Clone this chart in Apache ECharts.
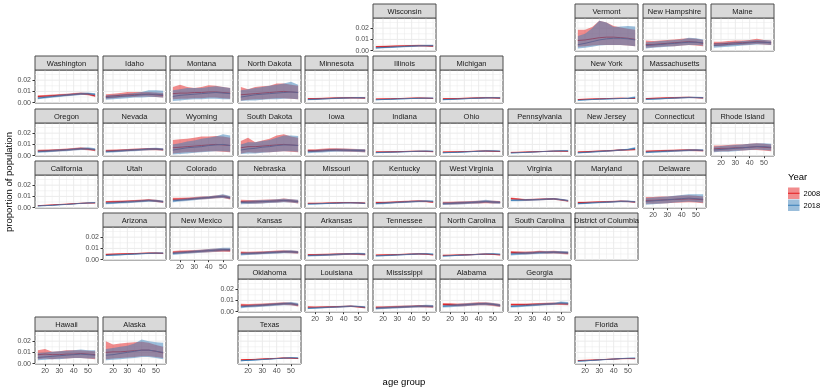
<!DOCTYPE html>
<html>
<head>
<meta charset="utf-8">
<script src="https://cdn.jsdelivr.net/npm/echarts@6/dist/echarts.min.js"></script>
<style>
  html, body { margin: 0; padding: 0; background: #fff; }
  #chart { width: 830px; height: 391px; }
</style>
</head>
<body>
<div id="chart"></div>
<script>
// age groups on the x axis
const ages = [15, 20, 25, 30, 35, 40, 45, 50, 55]
const years = ['2008', '2018']
const xTicks = [20, 30, 40, 50]
const yTicks = [0, 0.01, 0.02]

// geofacet cells: [state, row, col]
const cells = [
  ['Wisconsin', 0, 5], ['Vermont', 0, 8], ['New Hampshire', 0, 9], ['Maine', 0, 10],
  ['Washington', 1, 0], ['Idaho', 1, 1], ['Montana', 1, 2], ['North Dakota', 1, 3], ['Minnesota', 1, 4],
  ['Illinois', 1, 5], ['Michigan', 1, 6], ['New York', 1, 8], ['Massachusetts', 1, 9],
  ['Oregon', 2, 0], ['Nevada', 2, 1], ['Wyoming', 2, 2], ['South Dakota', 2, 3], ['Iowa', 2, 4],
  ['Indiana', 2, 5], ['Ohio', 2, 6], ['Pennsylvania', 2, 7], ['New Jersey', 2, 8], ['Connecticut', 2, 9], ['Rhode Island', 2, 10],
  ['California', 3, 0], ['Utah', 3, 1], ['Colorado', 3, 2], ['Nebraska', 3, 3], ['Missouri', 3, 4],
  ['Kentucky', 3, 5], ['West Virginia', 3, 6], ['Virginia', 3, 7], ['Maryland', 3, 8], ['Delaware', 3, 9],
  ['Arizona', 4, 1], ['New Mexico', 4, 2], ['Kansas', 4, 3], ['Arkansas', 4, 4], ['Tennessee', 4, 5],
  ['North Carolina', 4, 6], ['South Carolina', 4, 7], ['District of Columbia', 4, 8],
  ['Oklahoma', 5, 3], ['Louisiana', 5, 4], ['Mississippi', 5, 5], ['Alabama', 5, 6], ['Georgia', 5, 7],
  ['Hawaii', 6, 0], ['Alaska', 6, 1], ['Texas', 6, 3], ['Florida', 6, 8],
]

// values in thousandths of the population (0.001)
const mean08 = {
  'Wisconsin': [3.5,3.6,3.8,4,4.2,4.4,4.5,4.3,4],
  'Vermont': [9,9.5,10.5,11.5,12,12,11.5,11,10],
  'New Hampshire': [5.5,5.5,6,6.5,7,7.5,8,7.5,6.5],
  'Maine': [6,6,6.5,7,7,7.5,8,7.5,7],
  'Washington': [5.5,5.8,6.2,6.6,7,7.5,8,7.5,6],
  'Idaho': [5.5,6,6.5,7,7,7.5,7.5,7,6.5],
  'Montana': [8,8.5,8.5,9,9,9.5,9.5,9,8.5],
  'North Dakota': [7,7.5,8,8.5,9,9.5,10,9.5,9],
  'Minnesota': [3.5,3.5,3.7,3.9,4.1,4.3,4.4,4.3,4.1],
  'Illinois': [3.2,3.3,3.4,3.6,3.8,4,4.1,4,3.8],
  'Michigan': [3.4,3.5,3.6,3.8,4,4.2,4.4,4.3,4],
  'New York': [2.8,3,3.2,3.4,3.6,3.8,3.9,3.8,3.7],
  'Massachusetts': [3.6,3.8,4,4.2,4.4,4.6,4.7,4.5,4.2],
  'Oregon': [4.2,4.4,4.7,5,5.4,5.8,6.4,5.8,5],
  'Nevada': [4.2,4.4,4.7,5,5.3,5.6,5.9,5.8,5.3],
  'Wyoming': [7,7.5,8,8.5,9,9.5,10,9.5,9],
  'South Dakota': [7,8,8,8.5,9,9.5,10,9.5,9],
  'Iowa': [4.5,4.5,4.8,5.2,5.3,5,4.8,4.6,4.3],
  'Indiana': [3.3,3.3,3.4,3.5,3.7,3.8,3.9,3.8,3.6],
  'Ohio': [3.2,3.3,3.4,3.6,3.8,4,4.1,3.9,3.7],
  'Pennsylvania': [2.9,3,3.2,3.4,3.6,3.8,4,4,3.9],
  'New Jersey': [3.2,3.4,3.7,4,4.3,4.6,5,5.2,5.4],
  'Connecticut': [3.8,4,4.2,4.4,4.6,4.8,5,4.8,4.5],
  'Rhode Island': [6,6.5,6.5,7,7,7.5,8,7.5,7],
  'California': [1.8,2.1,2.4,2.8,3.1,3.5,3.9,4.1,4.2],
  'Utah': [5,5.2,5.4,5.6,5.9,6.2,6.6,6,5.2],
  'Colorado': [7.5,7.6,7.8,8.2,8.6,9,9.6,10,8.5],
  'Nebraska': [5.5,5.2,5.3,5.5,5.8,6,6.5,6,5.2],
  'Missouri': [3.8,3.8,3.9,4.1,4.3,4.5,4.5,4.3,4],
  'Kentucky': [4.5,4.5,4.7,5,5.3,5.6,5.8,5.5,5],
  'West Virginia': [4,4.1,4.3,4.5,4.7,4.9,5.2,5,4.8],
  'Virginia': [8,7.5,7,7.2,7.4,7.6,7.8,7,6],
  'Maryland': [4.5,4.6,4.8,5,5.2,5.4,5.7,5.5,5],
  'Delaware': [6.5,6.5,6.8,7,7.3,7.5,7.8,7.5,7],
  'Arizona': [4.6,4.8,5,5.2,5.4,5.6,5.8,5.8,5.6],
  'New Mexico': [6.5,6.8,7,7.3,7.6,8,8.3,8.5,8.3],
  'Kansas': [6,5.8,6,6.3,6.6,6.9,7.2,7,6.5],
  'Arkansas': [4.3,4.3,4.4,4.6,4.8,5,5.1,5,4.6],
  'Tennessee': [4,4.1,4.3,4.5,4.7,4.9,5.1,4.9,4.3],
  'North Carolina': [3.8,3.9,4.1,4.3,4.5,4.7,4.9,4.7,4.3],
  'South Carolina': [6.5,6.2,6,6.2,6.8,6.5,6.7,6.3,5.8],
  'Oklahoma': [5.8,5.6,5.8,6,6.4,6.8,7.2,7,5.8],
  'Louisiana': [4,3.9,4,4.2,4.4,4.6,4.8,4.3,3.6],
  'Mississippi': [3.8,3.8,4,4.2,4.4,4.6,4.9,4.8,4.4],
  'Alabama': [6.5,6.3,6,6.2,6.6,7,7,6.3,5.5],
  'Georgia': [6.2,6.2,6.3,6.5,6.7,6.9,7.1,7,6.8],
  'Hawaii': [8,8.5,8,8,8.5,8.5,9,8.5,8],
  'Alaska': [10,10.5,10.5,11,11.5,12,12,11,9.5],
  'Texas': [3.4,3.6,3.8,4.1,4.4,4.7,5,4.9,4.6],
  'Florida': [2.8,3,3.2,3.5,3.8,4.1,4.4,4.5,4.4],
}
const low08 = {
  'Wisconsin': [2.8,2.9,3.1,3.3,3.5,3.7,3.8,3.6,3.3],
  'Vermont': [3.5,4,4.5,5,5,5,5,4.5,4],
  'New Hampshire': [2.5,3,3.5,4,4,4.5,5,4.5,4],
  'Maine': [4,4,4.5,5,5,5.5,6,5.5,5],
  'Washington': [4.5,4.8,5.2,5.6,6,6.5,7,6.5,5],
  'Idaho': [3.5,4,4.5,5,5,5.5,5.5,5,4.5],
  'Montana': [3,3.5,3.5,4,4,4.5,4.5,4,3.5],
  'North Dakota': [2,2.5,3,3,3.5,4,4,3.5,3],
  'Minnesota': [2.9,2.9,3.1,3.3,3.5,3.7,3.8,3.7,3.5],
  'Illinois': [2.8,2.9,3,3.2,3.4,3.6,3.7,3.6,3.4],
  'Michigan': [2.9,3,3.1,3.3,3.5,3.7,3.9,3.8,3.5],
  'New York': [2.4,2.6,2.8,3,3.2,3.4,3.5,3.4,3.3],
  'Massachusetts': [3,3.2,3.4,3.6,3.8,4,4.1,3.9,3.6],
  'Oregon': [3.2,3.4,3.7,4,4.4,4.8,5.3,4.8,4],
  'Nevada': [3.2,3.4,3.7,4,4.3,4.6,4.9,4.8,4.3],
  'Wyoming': [2,2.5,3,3,3.5,4,4,3.5,3],
  'South Dakota': [2,3,2.5,3,3,3.5,4,3.5,3],
  'Iowa': [3.2,3.2,3.5,3.9,4,3.7,3.5,3.3,3],
  'Indiana': [2.8,2.8,2.9,3,3.2,3.3,3.4,3.3,3.1],
  'Ohio': [2.8,2.9,3,3.2,3.4,3.6,3.7,3.5,3.3],
  'Pennsylvania': [2.6,2.7,2.9,3.1,3.3,3.5,3.7,3.7,3.6],
  'New Jersey': [2.6,2.8,3.1,3.4,3.7,4,4.4,4.6,4.8],
  'Connecticut': [3,3.2,3.4,3.6,3.8,4,4.2,4,3.7],
  'Rhode Island': [3.5,4,4,4.5,4.5,5,5,4.5,4],
  'California': [1.6,1.9,2.2,2.6,2.9,3.3,3.7,3.9,4],
  'Utah': [4,4.2,4.4,4.6,4.9,5.2,5.6,5,4.2],
  'Colorado': [6.3,6.4,6.6,7,7.4,7.8,8.3,8.6,7.2],
  'Nebraska': [4,3.7,3.8,4,4.3,4.5,5,4.5,3.7],
  'Missouri': [3.3,3.3,3.4,3.6,3.8,4,4,3.8,3.5],
  'Kentucky': [3.7,3.7,3.9,4.2,4.5,4.8,5,4.7,4.2],
  'West Virginia': [2.8,2.9,3.1,3.3,3.5,3.7,4,3.8,3.6],
  'Virginia': [7,6.6,6.2,6.4,6.6,6.8,7,6.2,5.2],
  'Maryland': [3.8,3.9,4.1,4.3,4.5,4.7,5,4.8,4.3],
  'Delaware': [3.5,3.5,3.8,4,4.3,4.5,4.8,4.5,4],
  'Arizona': [4,4.2,4.4,4.6,4.8,5,5.2,5.2,5],
  'New Mexico': [5.2,5.5,5.7,6,6.3,6.6,6.9,7.1,6.9],
  'Kansas': [4.8,4.6,4.8,5.1,5.4,5.7,6,5.8,5.3],
  'Arkansas': [3.5,3.5,3.6,3.8,4,4.2,4.3,4.2,3.8],
  'Tennessee': [3.4,3.5,3.7,3.9,4.1,4.3,4.5,4.3,3.7],
  'North Carolina': [3.3,3.4,3.6,3.8,4,4.2,4.4,4.2,3.8],
  'South Carolina': [5.3,5,4.8,5,5.6,5.3,5.5,5.1,4.6],
  'Oklahoma': [4.6,4.4,4.6,4.8,5.2,5.6,6,5.8,4.6],
  'Louisiana': [3.3,3.2,3.3,3.5,3.7,3.9,4.1,3.6,2.9],
  'Mississippi': [2.8,2.8,3,3.2,3.4,3.6,3.9,3.8,3.4],
  'Alabama': [5.2,5,4.7,4.9,5.3,5.7,5.7,5,4.2],
  'Georgia': [5.2,5.2,5.3,5.5,5.7,5.9,6.1,6,5.8],
  'Hawaii': [4,4.5,4,4.5,4.5,5,5,4.5,4],
  'Alaska': [4,4.5,5,5.5,6,6.5,6.5,6,5],
  'Texas': [3,3.2,3.4,3.7,4,4.3,4.6,4.5,4.2],
  'Florida': [2.5,2.7,2.9,3.2,3.5,3.8,4.1,4.2,4.1],
}
const high08 = {
  'Wisconsin': [4.2,4.3,4.5,4.7,4.9,5.1,5.2,5,4.7],
  'Vermont': [18.5,18.5,21,26.5,25,22,20.5,19.5,18.5],
  'New Hampshire': [9,8.5,9,9.5,10,10.5,11,10.5,9.5],
  'Maine': [8,8,8.5,9,9,9.5,10.5,9.5,9],
  'Washington': [6.5,6.8,7.2,7.6,8,8.5,9,8.5,7],
  'Idaho': [7.5,8,8.5,9.5,9.5,9.5,9.5,9,8.5],
  'Montana': [14,16,14,13,14,15.5,15,14,13],
  'North Dakota': [14,12,14,14.5,15,17,17,16,15],
  'Minnesota': [4.1,4.1,4.3,4.5,4.7,4.9,5,4.9,4.7],
  'Illinois': [3.6,3.7,3.8,4,4.2,4.4,4.5,4.4,4.2],
  'Michigan': [3.9,4,4.1,4.3,4.5,4.7,4.9,4.8,4.5],
  'New York': [3.2,3.4,3.6,3.8,4,4.2,4.3,4.2,4.1],
  'Massachusetts': [4.2,4.4,4.6,4.8,5,5.2,5.3,5.1,4.8],
  'Oregon': [5.2,5.4,5.7,6,6.4,6.8,7.5,6.8,6],
  'Nevada': [5.2,5.4,5.7,6,6.3,6.6,6.9,6.8,6.3],
  'Wyoming': [14,14.5,15,16,17,17,17.5,17,16],
  'South Dakota': [13,16,12,13.5,15,18,19,17,16],
  'Iowa': [5.8,5.8,6.1,6.5,6.6,6.3,6.1,5.9,5.6],
  'Indiana': [3.8,3.8,3.9,4,4.2,4.3,4.4,4.3,4.1],
  'Ohio': [3.6,3.7,3.8,4,4.2,4.4,4.5,4.3,4.1],
  'Pennsylvania': [3.2,3.3,3.5,3.7,3.9,4.1,4.3,4.3,4.2],
  'New Jersey': [3.8,4,4.3,4.6,4.9,5.2,5.6,5.8,6],
  'Connecticut': [4.6,4.8,5,5.2,5.4,5.6,5.8,5.6,5.3],
  'Rhode Island': [9,9,9.5,10,10,10.5,11,10.5,10],
  'California': [2,2.3,2.6,3,3.3,3.7,4.1,4.3,4.4],
  'Utah': [6,6.2,6.4,6.6,6.9,7.2,7.6,7,6.2],
  'Colorado': [8.7,8.8,9,9.4,9.8,10.2,10.9,11.4,9.8],
  'Nebraska': [7,6.7,6.8,7,7.3,7.5,8.2,7.5,6.7],
  'Missouri': [4.3,4.3,4.4,4.6,4.8,5,5,4.8,4.5],
  'Kentucky': [5.3,5.3,5.5,5.8,6.1,6.4,6.6,6.3,5.8],
  'West Virginia': [5.2,5.3,5.5,5.7,5.9,6.1,6.4,6.2,6],
  'Virginia': [9,8.4,7.8,8,8.2,8.4,8.6,7.8,6.8],
  'Maryland': [5.2,5.3,5.5,5.7,5.9,6.1,6.4,6.2,5.7],
  'Delaware': [9.5,9.5,9.8,10,10.3,10.8,11,10.5,10],
  'Arizona': [5.2,5.4,5.6,5.8,6,6.2,6.4,6.4,6.2],
  'New Mexico': [7.8,8.1,8.3,8.6,8.9,9.4,9.7,9.9,9.7],
  'Kansas': [7.2,7,7.2,7.5,7.8,8.1,8.4,8.2,7.7],
  'Arkansas': [5.1,5.1,5.2,5.4,5.6,5.8,5.9,5.8,5.4],
  'Tennessee': [4.6,4.7,4.9,5.1,5.3,5.5,5.7,5.5,4.9],
  'North Carolina': [4.3,4.4,4.6,4.8,5,5.2,5.4,5.2,4.8],
  'South Carolina': [7.7,7.4,7.2,7.4,8,7.7,7.9,7.5,7],
  'Oklahoma': [7,6.8,7,7.2,7.6,8,8.4,8.2,7],
  'Louisiana': [4.7,4.6,4.7,4.9,5.1,5.3,5.5,5,4.3],
  'Mississippi': [4.8,4.8,5,5.2,5.4,5.6,5.9,5.8,5.4],
  'Alabama': [7.8,7.6,7.3,7.5,7.9,8.3,8.3,7.6,6.8],
  'Georgia': [7.2,7.2,7.3,7.5,7.7,7.9,8.1,8,7.8],
  'Hawaii': [12,13,10.5,11,12,12,12,11.5,11],
  'Alaska': [20,17,18,18.5,19,19.5,18.5,16.5,15],
  'Texas': [3.8,4,4.2,4.5,4.8,5.1,5.4,5.3,5],
  'Florida': [3.1,3.3,3.5,3.8,4.1,4.4,4.7,4.8,4.7],
}
const mean18 = {
  'Wisconsin': [2.5,2.8,3.1,3.4,3.7,4,4.3,4.5,4.5],
  'Vermont': [5.3,6.5,8,9.5,10.5,11,11,10.5,9.5],
  'New Hampshire': [4.5,5,5.5,6,6.5,7,7.5,7.5,7],
  'Maine': [4.5,5,5.5,6,6.5,7,7.5,7.5,7],
  'Washington': [4,4.7,5.4,6,6.6,7.2,7.8,8,7.4],
  'Idaho': [4.5,5,5.5,6,6.5,7,7.5,7.5,7],
  'Montana': [5.5,6.5,7,7.5,8,8.5,9,8.5,8],
  'North Dakota': [5,6,7,7.5,8,8.5,9,9.5,9],
  'Minnesota': [2.8,3,3.3,3.6,3.9,4.1,4.3,4.4,4.3],
  'Illinois': [2.6,2.8,3,3.3,3.5,3.7,3.9,4,4],
  'Michigan': [2.7,2.9,3.2,3.5,3.8,4,4.2,4.4,4.3],
  'New York': [2.2,2.5,2.8,3.1,3.3,3.5,3.7,3.8,4.5],
  'Massachusetts': [3,3.2,3.5,3.8,4.1,4.4,4.6,4.6,4.4],
  'Oregon': [3.5,3.8,4.2,4.6,5,5.5,6,6.2,5.5],
  'Nevada': [3.5,3.8,4.2,4.6,5,5.4,5.8,6,5.6],
  'Wyoming': [5,6,7,7.5,8,9,9.5,10,9],
  'South Dakota': [5,6,6.5,7.5,8,9,9.5,9.5,9],
  'Iowa': [3.5,3.8,4.2,4.6,4.8,4.8,4.7,4.6,4.4],
  'Indiana': [2.7,2.9,3.1,3.3,3.5,3.7,3.9,4,3.9],
  'Ohio': [2.6,2.8,3,3.3,3.6,3.9,4.2,4.2,4],
  'Pennsylvania': [2.4,2.6,2.9,3.2,3.5,3.8,4.1,4.3,4.3],
  'New Jersey': [2.6,2.9,3.3,3.7,4.1,4.5,5,5.5,6.5],
  'Connecticut': [3,3.3,3.6,3.9,4.2,4.5,4.8,5,4.8],
  'Rhode Island': [5,5.5,6,6.5,7,7.5,8,8,7.5],
  'California': [1.5,1.8,2.1,2.5,2.9,3.3,3.8,4.2,4.4],
  'Utah': [4,4.3,4.6,5,5.4,5.8,6.2,6,5.4],
  'Colorado': [6,6.6,7.2,7.8,8.4,9,9.6,10,9],
  'Nebraska': [4.5,4.7,5,5.3,5.6,5.9,6.3,6,5.5],
  'Missouri': [3.2,3.4,3.6,3.8,4,4.2,4.3,4.2,3.8],
  'Kentucky': [3.6,3.9,4.3,4.7,5,5.3,5.6,5.8,5.6],
  'West Virginia': [3.5,3.7,4,4.3,4.6,5,5.6,5,4.6],
  'Virginia': [6.5,6.6,6.8,7,7.2,7.5,7.8,7.2,6.2],
  'Maryland': [3.6,3.9,4.3,4.6,4.9,5.2,5.6,5.6,5.2],
  'Delaware': [5.5,6,6.5,7,7.5,8,8.5,8,7.5],
  'Arizona': [3.8,4.1,4.4,4.7,5,5.3,5.6,5.8,5.8],
  'New Mexico': [5.5,6,6.5,7,7.5,8,8.5,9,9],
  'Kansas': [5,5.3,5.6,5.9,6.2,6.5,6.9,7,6.6],
  'Arkansas': [3.6,3.8,4,4.3,4.6,4.9,5.2,5.3,5],
  'Tennessee': [3.4,3.6,3.9,4.2,4.5,4.8,5.1,5.2,4.8],
  'North Carolina': [3.2,3.5,3.8,4.1,4.4,4.7,5,5.1,4.8],
  'South Carolina': [5,5.3,5.6,5.9,6.2,6.4,6.6,6.5,6.2],
  'Oklahoma': [4.3,4.8,5.2,5.6,6,6.5,7,7.2,6.3],
  'Louisiana': [3,3.3,3.6,3.9,4.2,4.5,4.8,4.6,4],
  'Mississippi': [3,3.3,3.6,3.9,4.2,4.5,4.8,5,4.8],
  'Alabama': [4.8,5.2,5.6,6,6.4,6.8,7,6.6,5.6],
  'Georgia': [4.6,5,5.4,5.8,6.2,6.6,7,7.8,7.4],
  'Hawaii': [5.5,6,6.5,7,7.5,8,8.5,8,7.5],
  'Alaska': [7.5,8,9,10,11,12,12,11,10],
  'Texas': [2.6,2.9,3.3,3.7,4.1,4.5,4.9,5.2,5],
  'Florida': [2.2,2.5,2.9,3.3,3.7,4.1,4.5,4.8,4.9],
}
const low18 = {
  'Wisconsin': [1.8,2.1,2.4,2.7,3,3.3,3.6,3.8,3.8],
  'Vermont': [2,2.5,3.5,4.5,5,5,5,4.5,4],
  'New Hampshire': [2,2.5,3,3.5,4,4.5,5,5,4.5],
  'Maine': [2.5,3,3.5,4,4.5,5,5.5,5.5,5],
  'Washington': [3,3.7,4.4,5,5.6,6.2,6.8,7,6.4],
  'Idaho': [2.5,3,3.5,4,4.5,4.5,5,5,4.5],
  'Montana': [1.5,2,2.5,3,3,3.5,3.5,3,3],
  'North Dakota': [1.5,2,2,2.5,3,3,3.5,3.5,3],
  'Minnesota': [2.2,2.4,2.7,3,3.3,3.5,3.7,3.8,3.7],
  'Illinois': [2.2,2.4,2.6,2.9,3.1,3.3,3.5,3.6,3.6],
  'Michigan': [2.2,2.4,2.7,3,3.3,3.5,3.7,3.9,3.8],
  'New York': [1.8,2.1,2.4,2.7,2.9,3.1,3.3,3.3,3.6],
  'Massachusetts': [2.4,2.6,2.9,3.2,3.5,3.8,4,4,3.8],
  'Oregon': [2.5,2.8,3.2,3.6,4,4.5,5,5.2,4.5],
  'Nevada': [2.5,2.8,3.2,3.6,4,4.4,4.8,5,4.6],
  'Wyoming': [1,1.5,2,2.5,3,3.5,4,4,3.5],
  'South Dakota': [1.5,2,2,2.5,3,3.5,4,4,3.5],
  'Iowa': [2.2,2.5,2.9,3.3,3.5,3.5,3.4,3.3,3.1],
  'Indiana': [2.2,2.4,2.6,2.8,3,3.2,3.4,3.5,3.4],
  'Ohio': [2.2,2.4,2.6,2.9,3.2,3.5,3.8,3.8,3.6],
  'Pennsylvania': [2.1,2.3,2.6,2.9,3.2,3.5,3.8,4,4],
  'New Jersey': [2,2.3,2.7,3.1,3.5,3.9,4.4,4.8,5.4],
  'Connecticut': [2.2,2.5,2.8,3.1,3.4,3.7,4,4.2,4],
  'Rhode Island': [3,3.5,3.5,4,4.5,5,5.5,5,4.5],
  'California': [1.3,1.6,1.9,2.3,2.7,3.1,3.6,4,4.2],
  'Utah': [3,3.3,3.6,4,4.4,4.8,5.2,5,4.4],
  'Colorado': [4.8,5.4,6,6.6,7.2,7.8,8.3,8.6,7.6],
  'Nebraska': [3,3.2,3.5,3.8,4.1,4.4,4.8,4.5,4],
  'Missouri': [2.7,2.9,3.1,3.3,3.5,3.7,3.8,3.7,3.3],
  'Kentucky': [2.8,3.1,3.5,3.9,4.2,4.5,4.8,5,4.8],
  'West Virginia': [2.3,2.5,2.8,3.1,3.4,3.8,4.3,3.8,3.4],
  'Virginia': [5.6,5.8,6,6.2,6.4,6.7,7,6.4,5.4],
  'Maryland': [2.9,3.2,3.6,3.9,4.2,4.5,4.9,4.9,4.5],
  'Delaware': [2.5,3,3.5,4,4.5,5,5.5,5,4.5],
  'Arizona': [3.2,3.5,3.8,4.1,4.4,4.7,5,5.2,5.2],
  'New Mexico': [4.2,4.7,5.2,5.7,6.2,6.6,7.1,7.5,7.5],
  'Kansas': [3.8,4.1,4.4,4.7,5,5.3,5.7,5.8,5.4],
  'Arkansas': [2.8,3,3.2,3.5,3.8,4.1,4.4,4.4,4.1],
  'Tennessee': [2.8,3,3.3,3.6,3.9,4.2,4.5,4.6,4.2],
  'North Carolina': [2.7,3,3.3,3.6,3.9,4.2,4.5,4.6,4.3],
  'South Carolina': [3.8,4.1,4.4,4.7,5,5.2,5.4,5.3,5],
  'Oklahoma': [3.1,3.6,4,4.4,4.8,5.3,5.8,5.8,5],
  'Louisiana': [2.3,2.6,2.9,3.2,3.5,3.8,4.1,3.9,3.3],
  'Mississippi': [2,2.3,2.6,2.9,3.2,3.5,3.8,3.9,3.7],
  'Alabama': [3.6,4,4.4,4.8,5.2,5.6,5.8,5.4,4.4],
  'Georgia': [3.6,4,4.4,4.8,5.2,5.6,6,6.6,6.2],
  'Hawaii': [3,3.5,4,4,4.5,5,5,4.5,4.5],
  'Alaska': [3,3.5,4,4.5,5,6,6,5,4],
  'Texas': [2.2,2.5,2.9,3.3,3.7,4.1,4.5,4.8,4.6],
  'Florida': [1.9,2.2,2.6,3,3.4,3.8,4.2,4.5,4.6],
}
const high18 = {
  'Wisconsin': [3.2,3.5,3.8,4.1,4.4,4.7,5,5.2,5.2],
  'Vermont': [13,15,20,26.5,25,21,21.5,22,21.5],
  'New Hampshire': [7.5,8,8.5,9,9.5,10,11.5,11,10],
  'Maine': [6.5,7,7.5,8,8.5,9,9.5,9.5,9],
  'Washington': [5,5.7,6.4,7,7.6,8.2,8.8,9,8.4],
  'Idaho': [6.5,7,7.5,8,8.5,9.5,11,11,10.5],
  'Montana': [11,12,13,13,13,14,14.5,14,13],
  'North Dakota': [11,12,13,14,15,16,17,18.5,16],
  'Minnesota': [3.4,3.6,3.9,4.2,4.5,4.7,4.9,5,4.9],
  'Illinois': [3,3.2,3.4,3.7,3.9,4.1,4.3,4.4,4.4],
  'Michigan': [3.2,3.4,3.7,4,4.3,4.5,4.7,4.9,4.8],
  'New York': [2.6,2.9,3.2,3.5,3.7,3.9,4.1,4.4,5.6],
  'Massachusetts': [3.6,3.8,4.1,4.4,4.7,5,5.2,5.2,5],
  'Oregon': [4.5,4.8,5.2,5.6,6,6.5,7,7.4,6.5],
  'Nevada': [4.5,4.8,5.2,5.6,6,6.4,6.8,7,6.6],
  'Wyoming': [10,11,12.5,13.5,15,16,17,19,18],
  'South Dakota': [10,12,12,13,14,16,18,18,17.5],
  'Iowa': [4.8,5.1,5.5,5.9,6.1,6.1,6,5.9,5.7],
  'Indiana': [3.2,3.4,3.6,3.8,4,4.2,4.4,4.5,4.4],
  'Ohio': [3,3.2,3.4,3.7,4,4.3,4.6,4.6,4.4],
  'Pennsylvania': [2.7,2.9,3.2,3.5,3.8,4.1,4.4,4.6,4.6],
  'New Jersey': [3.2,3.5,3.9,4.3,4.7,5.1,5.6,6.2,7.6],
  'Connecticut': [3.8,4.1,4.4,4.7,5,5.3,5.6,5.8,5.6],
  'Rhode Island': [8,8.5,9,9.5,10,10.5,11,11,10.5],
  'California': [1.7,2,2.3,2.7,3.1,3.5,4,4.4,4.6],
  'Utah': [5,5.3,5.6,6,6.4,6.8,7.2,7,6.4],
  'Colorado': [7.2,7.8,8.4,9,9.6,10.2,10.9,11.8,10.4],
  'Nebraska': [6,6.2,6.5,6.8,7.1,7.4,8,7.5,7],
  'Missouri': [3.7,3.9,4.1,4.3,4.5,4.7,4.8,4.7,4.3],
  'Kentucky': [4.4,4.7,5.1,5.5,5.8,6.1,6.4,6.6,6.4],
  'West Virginia': [4.7,4.9,5.2,5.5,5.8,6.2,7,6.2,5.8],
  'Virginia': [7.4,7.4,7.6,7.8,8,8.3,8.6,8,7],
  'Maryland': [4.3,4.6,5,5.3,5.6,5.9,6.3,6.3,5.9],
  'Delaware': [8.5,9,9.5,10,10.5,11.2,11.8,12,12],
  'Arizona': [4.4,4.7,5,5.3,5.6,5.9,6.2,6.4,6.4],
  'New Mexico': [6.8,7.3,7.8,8.3,8.8,9.4,9.9,10.5,10.5],
  'Kansas': [6.2,6.5,6.8,7.1,7.4,7.7,8.1,8.4,7.8],
  'Arkansas': [4.4,4.6,4.8,5.1,5.4,5.7,6,6.2,5.9],
  'Tennessee': [4,4.2,4.5,4.8,5.1,5.4,5.7,5.8,5.4],
  'North Carolina': [3.7,4,4.3,4.6,4.9,5.2,5.5,5.6,5.3],
  'South Carolina': [6.2,6.5,6.8,7.1,7.4,7.6,7.8,7.7,7.4],
  'Oklahoma': [5.5,6,6.4,6.8,7.2,7.7,8.2,8.6,7.6],
  'Louisiana': [3.7,4,4.3,4.6,4.9,5.2,5.5,5.3,4.7],
  'Mississippi': [4,4.3,4.6,4.9,5.2,5.5,5.8,6.1,5.9],
  'Alabama': [6,6.4,6.8,7.2,7.6,8,8.2,7.8,6.8],
  'Georgia': [5.6,6,6.4,6.8,7.2,7.6,8,9,8.6],
  'Hawaii': [9.5,10,10.5,11,11.5,12,12.5,12,12],
  'Alaska': [13,14,15,16,18,21.5,20,19,18.5],
  'Texas': [3,3.3,3.7,4.1,4.5,4.9,5.3,5.6,5.4],
  'Florida': [2.5,2.8,3.2,3.6,4,4.4,4.8,5.1,5.2],
}

const FONT = 'Liberation Sans, Arial, sans-serif'
const RED = '#E41A1C', BLUE = '#377EB8'
const X0 = 35, PX = 67.55, PW = 63
const Y0 = 4.3, PY = 52.1, STRIP = 14, PH = 33

const chart = echarts.init(document.getElementById('chart'), null, { renderer: 'canvas' })

// which facets carry axis labels: first one in each row, last one in each column
const firstInRow = {}, lastInCol = {}
cells.forEach(([, r, c]) => {
  if (firstInRow[r] === undefined || c < firstInRow[r]) firstInRow[r] = c
  if (lastInCol[c] === undefined || r > lastInCol[c]) lastInCol[c] = r
})

// panel gridlines (major + minor), drawn through the axes
const gridLineData = []
;[15, 20, 25, 30, 35, 40, 45, 50, 55].forEach(v => gridLineData.push([v, 0, 0, v % 10 === 0 ? 1 : 0]))
;[0, 0.005, 0.01, 0.015, 0.02, 0.025].forEach((v, k) => gridLineData.push([15, v, 1, k % 2 === 0 ? 1 : 0]))

function renderGridLine(params, api) {
  const cs = params.coordSys
  const p = api.coord([api.value(0), api.value(1)])
  const vertical = api.value(2) === 0
  const shape = vertical
    ? { x1: p[0], y1: cs.y, x2: p[0], y2: cs.y + cs.height }
    : { x1: cs.x, y1: p[1], x2: cs.x + cs.width, y2: p[1] }
  return { type: 'line', shape, style: { stroke: '#EBEBEB', lineWidth: api.value(3) ? 1 : 0.5 } }
}

// ribbon: one polygon through the upper edge and back along the lower edge
function bandRenderer(color) {
  return (params, api) => {
    if (params.dataIndexInside !== 0) return null
    const n = ages.length
    const upper = [], lower = []
    for (let k = 0; k < n; k++) {
      upper.push(api.coord([api.value(0, k), api.value(2, k)]))
      lower.unshift(api.coord([api.value(0, k), api.value(1, k)]))
    }
    return { type: 'polygon', shape: { points: upper.concat(lower) }, style: { fill: color, opacity: 0.5 } }
  }
}

const grid = [], xAxis = [], yAxis = [], series = [], graphic = []

cells.forEach(([name, r, c], i) => {
  const left = Math.round(X0 + c * PX)
  const top = Math.round(Y0 + r * PY)
  const showX = lastInCol[c] === r
  const showY = firstInRow[r] === c

  grid.push({
    left, top: top + STRIP, width: PW, height: PH,
    show: true, backgroundColor: '#fff', borderColor: '#4D4D4D', borderWidth: 1,
    containLabel: false, outerBoundsMode: 'none',
  })
  xAxis.push({
    type: 'value', gridIndex: i, min: 13, max: 57,
    axisLine: { show: false }, splitLine: { show: false },
    axisTick: { show: showX, customValues: xTicks, length: 2.5, lineStyle: { color: '#333', width: 1 } },
    axisLabel: { show: showX, customValues: xTicks, fontSize: 7, color: '#4D4D4D', margin: 4, fontFamily: FONT },
  })
  yAxis.push({
    type: 'value', gridIndex: i, min: -0.0003, max: 0.029,
    axisLine: { show: false }, splitLine: { show: false },
    axisTick: { show: showY, customValues: yTicks, length: 2.5, lineStyle: { color: '#333', width: 1 } },
    axisLabel: {
      show: showY, customValues: yTicks, fontSize: 7, color: '#4D4D4D', margin: 4, fontFamily: FONT,
      formatter: v => v.toFixed(2),
    },
  })

  series.push({
    type: 'custom', xAxisIndex: i, yAxisIndex: i, z: 1, silent: true,
    data: gridLineData, renderItem: renderGridLine,
  })

  if (mean08[name]) {
    const sets = [
      { year: years[0], color: RED, mean: mean08[name], lo: low08[name], hi: high08[name] },
      { year: years[1], color: BLUE, mean: mean18[name], lo: low18[name], hi: high18[name] },
    ]
    // mean lines sit under the translucent ribbons
    sets.forEach(s => {
      series.push({
        type: 'line', name: s.year, xAxisIndex: i, yAxisIndex: i, z: 2, silent: true,
        symbol: 'none', lineStyle: { color: s.color, width: 1 },
        data: ages.map((a, k) => [a, s.mean[k] / 1000]),
      })
    })
    sets.forEach(s => {
      series.push({
        type: 'custom', name: s.year, xAxisIndex: i, yAxisIndex: i, z: 3, silent: true, clip: true,
        encode: { x: 0, y: [1, 2] },
        data: ages.map((a, k) => [a, s.lo[k] / 1000, s.hi[k] / 1000]),
        renderItem: bandRenderer(s.color),
      })
    })
  }

  // facet strip
  graphic.push({
    type: 'rect', z: 10, shape: { x: left, y: top, width: PW, height: STRIP },
    style: { fill: '#D9D9D9', stroke: '#4D4D4D', lineWidth: 1 },
  })
  graphic.push({
    type: 'text', z: 11, x: left + PW / 2, y: top + STRIP / 2 + 0.5,
    style: { text: name, fill: '#1A1A1A', font: '7.5px ' + FONT, align: 'center', verticalAlign: 'middle' },
  })
})

// axis titles
graphic.push({
  type: 'text', x: 404, y: 382,
  style: { text: 'age group', fill: '#000', font: '9.5px ' + FONT, align: 'center', verticalAlign: 'middle' },
})
graphic.push({
  type: 'text', x: 9, y: 182, rotation: Math.PI / 2,
  style: { text: 'proportion of population', fill: '#000', font: '9.5px ' + FONT, align: 'center', verticalAlign: 'middle' },
})

// legend
graphic.push({
  type: 'text', x: 788, y: 177,
  style: { text: 'Year', fill: '#000', font: '9.5px ' + FONT, align: 'left', verticalAlign: 'middle' },
})
;[RED, BLUE].forEach((col, k) => {
  const y = 187.5 + k * 12
  graphic.push({ type: 'rect', shape: { x: 788, y, width: 11.5, height: 11.5 }, style: { fill: col, opacity: 0.5 } })
  graphic.push({ type: 'line', shape: { x1: 788, y1: y + 5.75, x2: 799.5, y2: y + 5.75 }, style: { stroke: col, lineWidth: 1 } })
  graphic.push({
    type: 'text', x: 803.5, y: y + 6,
    style: { text: years[k], fill: '#000', font: '7.5px ' + FONT, align: 'left', verticalAlign: 'middle' },
  })
})

chart.setOption({
  animation: false,
  backgroundColor: '#fff',
  grid, xAxis, yAxis, series,
  graphic: { elements: graphic },
})
</script>
</body>
</html>
